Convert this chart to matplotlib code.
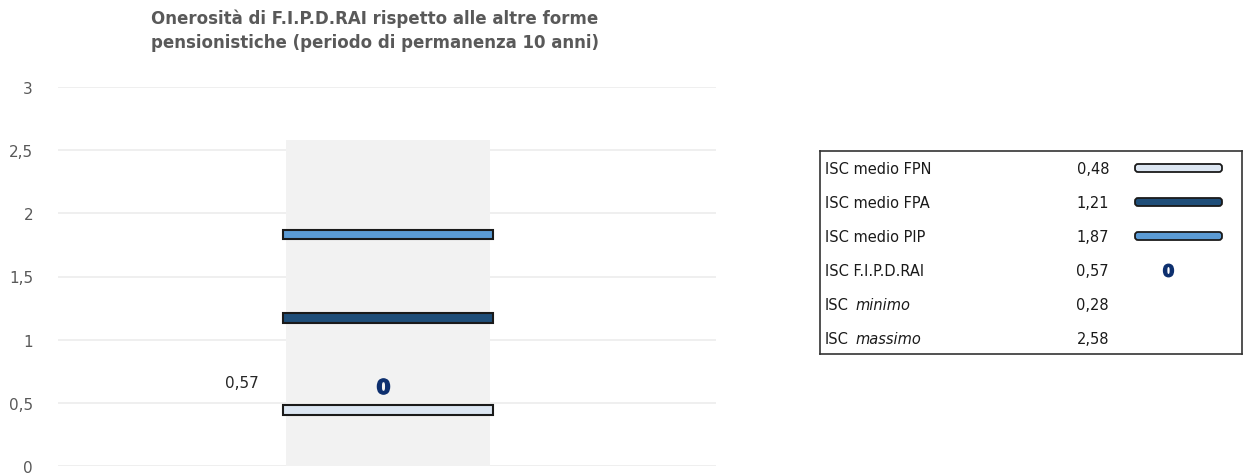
import matplotlib
matplotlib.use("Agg")
import matplotlib.pyplot as plt
from matplotlib.patches import FancyBboxPatch

# ---- data ----
title = "Onerosità di F.I.P.D.RAI rispetto alle altre forme\npensionistiche (periodo di permanenza 10 anni)"
series_names = ["ISC medio FPN", "ISC medio FPA", "ISC medio PIP"]
series_values = [0.48, 1.21, 1.87]
series_colors = ["#dce6f2", "#1f4e79", "#5b9bd5"]
fund_name = "ISC F.I.P.D.RAI"
fund_value = 0.57
isc_min = 0.28
isc_max = 2.58
yticks = [0, 0.5, 1, 1.5, 2, 2.5, 3]
ytick_labels = ["0", "0,5", "1", "1,5", "2", "2,5", "3"]

def fmt(v):
    return f"{v:.2f}".replace(".", ",")

plt.rcParams['font.family'] = ['DejaVu Sans']
GRAY = "#595959"
fig = plt.figure(figsize=(12.43, 4.77), dpi=100)
ax = fig.add_axes([58/1243, 1-467/477, 658/1243, 379/477])
ax.set_ylim(0, 3)
ax.set_xlim(-0.5015, 0.4985)
for t in yticks:
    ax.axhline(t, color="#ececec", lw=1.2, zorder=0)
ax.set_yticks(yticks)
ax.set_yticklabels(ytick_labels, color=GRAY, fontsize=11)
ax.tick_params(axis="y", length=0, pad=18)
ax.set_xticks([])
for s in ax.spines.values():
    s.set_visible(False)

# range band (from axis to max)
ax.bar([0], [isc_max], width=0.31, color="#f2f2f2", zorder=1)

# series bars: top edge at value
th = 0.075
for v, c in zip(series_values, series_colors):
    ax.bar([0], [th], bottom=v - th, width=0.32, color=c, edgecolor="#1a1a1a",
           lw=1.5, zorder=3)

# fund marker
ax.plot([-0.007], [fund_value + 0.06], marker=r"$\mathbf{0}$", color="#0d2f6e",
        markersize=11, ls="none", zorder=4)
ax.text(-0.196, fund_value + 0.09, fmt(fund_value), ha="right", va="center",
        fontsize=11, color="#262626")

fig.text(375/1243, 1-31/477, title, ha="center", va="center", fontsize=12,
         fontweight="bold", color=GRAY, linespacing=1.4)

# legend table
lax = fig.add_axes([820/1243, 1-355/477, 422/1243, 203/477])
lax.set_xlim(0, 422)
lax.set_ylim(203, 0)
lax.set_xticks([]); lax.set_yticks([])
for s in lax.spines.values():
    s.set_color("#333333"); s.set_linewidth(1.2)

rows = []
for n, v, c in zip(series_names, series_values, series_colors):
    rows.append((n, None, v, ("bar", c)))
rows.append((fund_name, None, fund_value, ("mark", None)))
rows.append(("ISC", "minimo", isc_min, None))
rows.append(("ISC", "massimo", isc_max, None))

FS = 10.5
for i, (n, it, v, sw) in enumerate(rows):
    y = 17 + i * 34
    lax.text(5, y, n, ha="left", va="center", fontsize=FS, color="#1a1a1a")
    if it is not None:
        lax.text(35, y, it, ha="left", va="center", fontsize=FS, color="#1a1a1a",
                 style="italic")
    lax.text(289, y, fmt(v), ha="right", va="center", fontsize=FS, color="#1a1a1a")
    if sw is not None:
        if sw[0] == "bar":
            lax.add_patch(FancyBboxPatch((315, y - 4), 87, 8,
                                         boxstyle="round,pad=0,rounding_size=3",
                                         facecolor=sw[1], edgecolor="#1a1a1a", lw=1.3))
        else:
            lax.plot([348], [y], marker=r"$\mathbf{0}$", color="#0d2f6e",
                     markersize=9, ls="none")

fig.savefig("out.png", dpi=100)
